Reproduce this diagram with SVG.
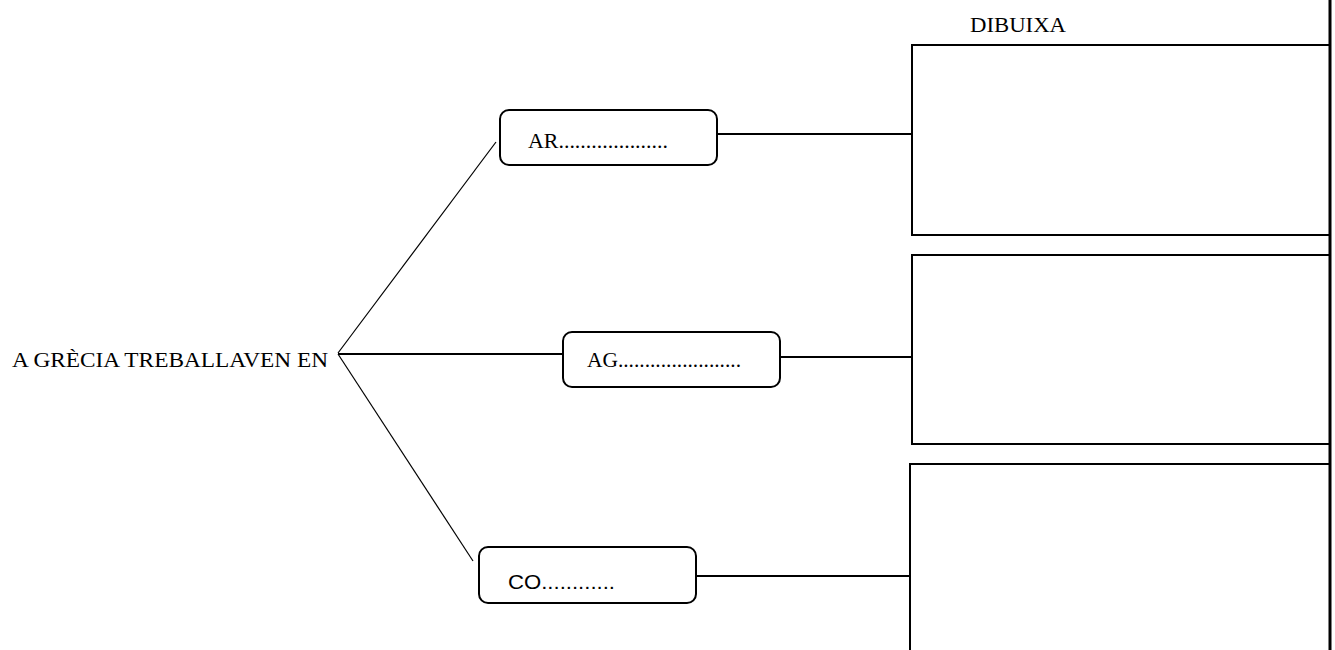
<svg xmlns="http://www.w3.org/2000/svg" width="1335" height="650" viewBox="0 0 1335 650">
<style>
  .serif { font-family: "Liberation Serif", "Times New Roman", serif; font-size: 21px; fill: #000; }
  .sans { font-family: "Liberation Sans", Arial, sans-serif; font-size: 20px; fill: #000; }
  .node { fill: #fff; stroke: #000; stroke-width: 2; }
  .frame { fill: #fff; stroke: #000; stroke-width: 2; }
  .conn { stroke: #000; stroke-width: 2; fill: none; }
  .diag { stroke: #000; stroke-width: 1.2; fill: none; }
</style>
<rect x="0" y="0" width="1335" height="650" fill="#fff"/>

<g id="connectors">
  <line class="diag" x1="338" y1="353" x2="496" y2="142"/>
  <line class="diag" x1="338" y1="354" x2="473" y2="561"/>
  <line class="conn" x1="338" y1="354" x2="563" y2="354"/>
  <line class="conn" x1="717" y1="134" x2="912" y2="134"/>
  <line class="conn" x1="780" y1="357" x2="912" y2="357"/>
  <line class="conn" x1="696" y1="576" x2="910" y2="576"/>
</g>

<g id="root">
  <text class="serif" x="12" y="367" textLength="316" lengthAdjust="spacingAndGlyphs">A GRÈCIA TREBALLAVEN EN</text>
</g>

<g id="node-ar">
  <rect class="node" x="500" y="110" width="217" height="55" rx="9" ry="9"/>
  <text class="serif" x="528" y="148" textLength="140" lengthAdjust="spacingAndGlyphs">AR....................</text>
</g>

<g id="node-ag">
  <rect class="node" x="563" y="332" width="217" height="55" rx="9" ry="9"/>
  <text class="serif" x="587" y="367" textLength="154" lengthAdjust="spacingAndGlyphs">AG.......................</text>
</g>

<g id="node-co">
  <rect class="node" x="479" y="547" width="217" height="56" rx="9" ry="9"/>
  <text class="sans" x="508" y="589" textLength="107" lengthAdjust="spacingAndGlyphs">CO............</text>
</g>

<g id="title-dibuixa">
  <text class="serif" x="970" y="32" textLength="96" lengthAdjust="spacingAndGlyphs">DIBUIXA</text>
</g>

<g id="draw-box-1">
  <rect class="frame" x="912" y="45" width="418" height="190"/>
</g>
<g id="draw-box-2">
  <rect class="frame" x="912" y="255" width="418" height="189"/>
</g>
<g id="draw-box-3">
  <rect class="frame" x="910" y="464" width="420" height="200"/>
</g>

<g id="right-edge">
  <line x1="1330" y1="0" x2="1330" y2="650" stroke="#000" stroke-width="3"/>
</g>
</svg>
